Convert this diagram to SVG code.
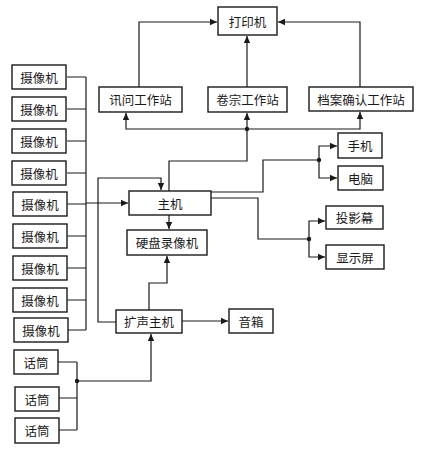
<svg xmlns="http://www.w3.org/2000/svg" width="421" height="450" viewBox="0 0 421 450">
<style>
.b{fill:#fff;stroke:#1a1a1a;stroke-width:1.4}
.t{font-family:"Noto Sans CJK SC","Noto Sans CJK JP",sans-serif;font-size:12.5px;fill:#1a1a1a;text-anchor:middle;dominant-baseline:central}
.c{fill:none;stroke:#1a1a1a;stroke-width:1.2}
.a{marker-end:url(#ar)}
</style>
<defs>
<marker id="ar" markerWidth="8" markerHeight="8" refX="7" refY="4" orient="auto" markerUnits="userSpaceOnUse"><path d="M0,0.8 L7,4 L0,7.2 Z" fill="#1a1a1a"/></marker>
</defs>
<rect width="421" height="450" fill="#fff"/>
<g id="connectors">
<path class="c a" d="M139,87 V22 H217"/>
<path class="c a" d="M247,87 V36"/>
<path class="c a" d="M360,87 V22 H278"/>
<path class="c a" d="M247,129 H126 V113"/>
<path class="c a" d="M247,129 V113"/>
<path class="c a" d="M247,129 H360 V112"/>
<path class="c" d="M169,191 V161 H247 V129"/>
<circle cx="247" cy="129" r="2.2" fill="#1a1a1a"/>
<path class="c" d="M67,77 H86 M67,109 H86 M67,141 H86 M67,173 H86 M67,204 H86 M67,236 H86 M67,268 H86 M67,300 H86 M67,330 H86 M86,77 V330"/>
<path class="c a" d="M86,203 H128"/>
<path class="c a" d="M169,215 V229"/>
<path class="c a" d="M116,322 H98 V178 H161 V190"/>
<path class="c a" d="M149,310 V283 H167 V256"/>
<path class="c a" d="M182,321 H228"/>
<path class="c" d="M58,362 H77 M58,398 H77 M58,430 H77 M77,362 V430"/>
<path class="c a" d="M77,381 H151 V334"/>
<circle cx="77" cy="381" r="2.2" fill="#1a1a1a"/>
<path class="c" d="M211,192 H263 V160 H319"/>
<path class="c a" d="M319,160 V146 H337"/>
<path class="c a" d="M319,160 V178 H337"/>
<circle cx="319" cy="160" r="2.2" fill="#1a1a1a"/>
<path class="c" d="M211,198 H258 V239 H309"/>
<path class="c a" d="M309,239 V221 H325"/>
<path class="c a" d="M309,239 V257 H325"/>
<circle cx="309" cy="239" r="2.2" fill="#1a1a1a"/>
</g>
<g id="printer"><rect class="b" x="218" y="7" width="59" height="28"/><text class="t" x="247.5" y="21">打印机</text></g>
<g id="ws1"><rect class="b" x="99" y="87" width="83" height="25"/><text class="t" x="140.5" y="99.5">讯问工作站</text></g>
<g id="ws2"><rect class="b" x="208" y="87" width="79" height="25"/><text class="t" x="247.5" y="99.5">卷宗工作站</text></g>
<g id="ws3"><rect class="b" x="309" y="87" width="104" height="24"/><text class="t" x="361" y="99">档案确认工作站</text></g>
<g id="cam1"><rect class="b" x="12" y="65" width="54" height="24"/><text class="t" x="39" y="77">摄像机</text></g>
<g id="cam2"><rect class="b" x="12" y="97" width="54" height="24"/><text class="t" x="39" y="109">摄像机</text></g>
<g id="cam3"><rect class="b" x="12" y="129" width="54" height="24"/><text class="t" x="39" y="141">摄像机</text></g>
<g id="cam4"><rect class="b" x="12" y="161" width="54" height="24"/><text class="t" x="39" y="173">摄像机</text></g>
<g id="cam5"><rect class="b" x="13" y="192" width="54" height="24"/><text class="t" x="40" y="204">摄像机</text></g>
<g id="cam6"><rect class="b" x="13" y="224" width="54" height="24"/><text class="t" x="40" y="236">摄像机</text></g>
<g id="cam7"><rect class="b" x="13" y="256" width="54" height="24"/><text class="t" x="40" y="268">摄像机</text></g>
<g id="cam8"><rect class="b" x="13" y="288" width="54" height="24"/><text class="t" x="40" y="300">摄像机</text></g>
<g id="cam9"><rect class="b" x="14" y="318" width="54" height="24"/><text class="t" x="41" y="330">摄像机</text></g>
<g id="host"><rect class="b" x="129" y="191" width="82" height="24"/><text class="t" x="170" y="203">主机</text></g>
<g id="dvr"><rect class="b" x="127" y="230" width="80" height="25"/><text class="t" x="167" y="242.5">硬盘录像机</text></g>
<g id="amp"><rect class="b" x="116" y="310" width="66" height="23"/><text class="t" x="149" y="321.5">扩声主机</text></g>
<g id="speaker"><rect class="b" x="229" y="309" width="44" height="24"/><text class="t" x="251" y="321">音箱</text></g>
<g id="mic1"><rect class="b" x="14" y="350" width="44" height="24"/><text class="t" x="36" y="362">话筒</text></g>
<g id="mic2"><rect class="b" x="15" y="387" width="44" height="24"/><text class="t" x="37" y="399">话筒</text></g>
<g id="mic3"><rect class="b" x="15" y="418" width="44" height="25"/><text class="t" x="37" y="430.5">话筒</text></g>
<g id="phone"><rect class="b" x="338" y="133" width="44" height="25"/><text class="t" x="360" y="145.5">手机</text></g>
<g id="pc"><rect class="b" x="338" y="166" width="45" height="24"/><text class="t" x="360.5" y="178">电脑</text></g>
<g id="projector"><rect class="b" x="326" y="206" width="57" height="23"/><text class="t" x="354.5" y="217.5">投影幕</text></g>
<g id="display"><rect class="b" x="326" y="245" width="58" height="24"/><text class="t" x="355" y="257">显示屏</text></g>
</svg>
